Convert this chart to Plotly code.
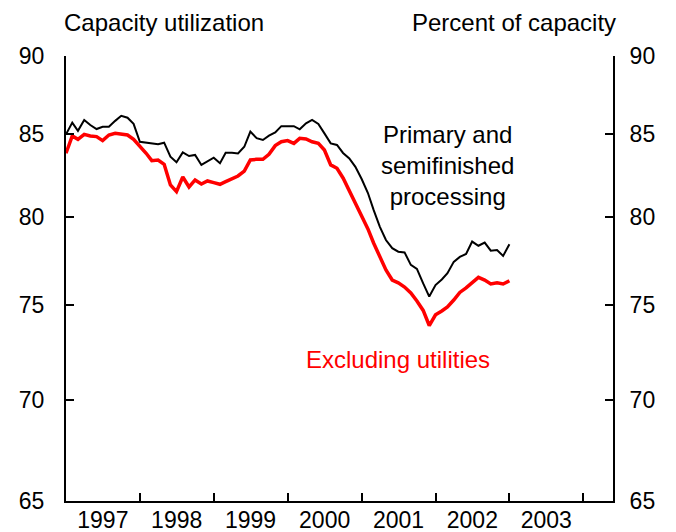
import math
import pandas as pd
import plotly.graph_objects as go

# Monthly data, Jan 1997 - Jan 2003 (percent of capacity)
months = pd.date_range("1997-01-01", "2003-01-01", freq="MS")

primary_semifinished = [
    84.99, 85.72, 85.21, 85.89, 85.57, 85.32, 85.46, 85.46, 85.83, 86.15, 86.03, 85.64,
    84.53, 84.47, 84.43, 84.37, 84.47, 83.61, 83.27, 83.87, 83.65, 83.72, 83.11, 83.35,
    83.55, 83.21, 83.85, 83.85, 83.81, 84.22, 85.16, 84.75, 84.64, 84.91, 85.11, 85.50,
    85.50, 85.50, 85.30, 85.68, 85.89, 85.64, 85.05, 84.43, 84.33, 83.84, 83.50, 82.99,
    82.26, 81.42, 80.42, 79.43, 78.67, 78.20, 78.00, 77.96, 77.25, 77.02, 76.21, 75.48,
    76.12, 76.43, 76.78, 77.42, 77.70, 77.87, 78.58, 78.34, 78.52, 78.06, 78.10, 77.76,
    78.43,
]

excluding_utilities = [
    83.82, 84.89, 84.68, 84.99, 84.89, 84.85, 84.60, 84.95, 85.05, 84.99, 84.95, 84.68,
    84.27, 83.82, 83.37, 83.41, 83.15, 81.90, 81.50, 82.38, 81.78, 82.20, 81.96, 82.14,
    82.04, 81.94, 82.10, 82.26, 82.44, 82.74, 83.41, 83.45, 83.45, 83.76, 84.29, 84.53,
    84.60, 84.43, 84.74, 84.70, 84.53, 84.43, 84.02, 83.11, 82.91, 82.32, 81.54, 80.77,
    80.07, 79.31, 78.50, 77.73, 76.96, 76.40, 76.24, 76.01, 75.68, 75.24, 74.72, 73.90,
    74.48, 74.69, 74.91, 75.29, 75.71, 75.96, 76.26, 76.55, 76.40, 76.18, 76.25, 76.18,
    76.36,
]

year_labels = ["1997", "1998", "1999", "2000", "2001", "2002", "2003"]
label_positions = [f"{y}-07-02" for y in year_labels]
year_boundaries = [f"{y}-01-01" for y in range(1998, 2005)]
y_ticks = [65, 70, 75, 80, 85, 90]

FONT = "Liberation Sans, Arial, sans-serif"
TICK_SIZE = 23
TEXT_SIZE = 24

fig = go.Figure()
fig.add_trace(go.Scatter(
    x=months, y=primary_semifinished, mode="lines",
    line=dict(color="black", width=2), yaxis="y", showlegend=False,
))
fig.add_trace(go.Scatter(
    x=months, y=excluding_utilities, mode="lines",
    line=dict(color="#ff0000", width=3.5), yaxis="y2", showlegend=False,
))

yrange = [math.log10(65), math.log10(90)]

axis_common = dict(
    type="log", range=yrange, tickmode="array", tickvals=y_ticks,
    ticktext=[str(v) for v in y_ticks],
    ticks="inside", ticklen=8, tickwidth=2, tickcolor="black",
    showline=True, linewidth=2, linecolor="black",
    showgrid=False, zeroline=False, automargin=False,
    tickfont=dict(family=FONT, size=TICK_SIZE, color="black"),
)

fig.update_layout(
    width=676, height=532,
    margin=dict(l=58, r=71, t=48, b=39, autoexpand=False),
    paper_bgcolor="white", plot_bgcolor="white",
    font=dict(family=FONT, size=TICK_SIZE, color="black"),
    xaxis=dict(
        type="date", range=["1997-01-01", "2004-05-27"],
        tickmode="array", tickvals=label_positions, ticktext=year_labels,
        ticks="", showline=True, linewidth=2, linecolor="black",
        showgrid=False, zeroline=False, automargin=False,
        ticklabelstandoff=-3,
        tickfont=dict(family=FONT, size=TICK_SIZE, color="black"),
        minor=dict(tickmode="array", tickvals=year_boundaries, ticks="inside",
                   ticklen=8, tickwidth=2, tickcolor="black", showgrid=False),
    ),
    yaxis=dict(side="left", ticklabelstandoff=15, **axis_common),
    yaxis2=dict(side="right", overlaying="y", ticklabelstandoff=10, **axis_common),
    annotations=[
        dict(text="Capacity utilization", xref="paper", yref="paper",
             x=-0.0073, y=1.0764, xanchor="left", yanchor="middle",
             showarrow=False, font=dict(family=FONT, size=TEXT_SIZE, color="black")),
        dict(text="Percent of capacity", xref="paper", yref="paper",
             x=1.009, y=1.0764, xanchor="right", yanchor="middle",
             showarrow=False, font=dict(family=FONT, size=TEXT_SIZE, color="black")),
        dict(text="Primary and<br>semifinished<br>processing", xref="paper", yref="paper",
             x=0.698, y=0.753, xanchor="center", yanchor="middle", align="center",
             showarrow=False, font=dict(family=FONT, size=TEXT_SIZE, color="black")),
        dict(text="Excluding utilities", xref="paper", yref="paper",
             x=0.607, y=0.317, xanchor="center", yanchor="middle",
             showarrow=False, font=dict(family=FONT, size=TEXT_SIZE, color="#ff0000")),
    ],
)

fig.write_html("out.html")
